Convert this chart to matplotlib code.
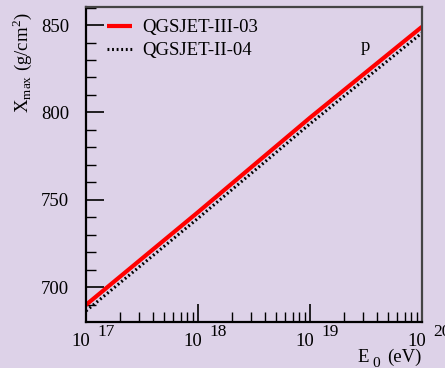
import numpy as np
import matplotlib
matplotlib.use("Agg")
import matplotlib.pyplot as plt
from matplotlib.ticker import LogLocator, NullFormatter, MultipleLocator
import matplotlib.transforms as mtransforms

log_energy = [17.0, 17.5, 18.0, 18.5, 19.0, 19.5, 20.0]
xmax_qgs3 = [690.0, 716.5, 743.0, 770.0, 797.0, 823.0, 849.0]
xmax_qgs2 = [686.5, 713.0, 739.5, 766.5, 793.5, 819.5, 845.5]
series_labels = ["QGSJET-III-03", "QGSJET-II-04"]
xtick_exps = ["17", "18", "19", "20"]

bg = "#ddd2e8"
FS = 13.5
plt.rcParams['font.family'] = ['Liberation Serif', 'DejaVu Serif']
plt.rcParams['mathtext.fontset'] = 'stix'

fig = plt.figure(figsize=(4.45, 3.68), dpi=100, facecolor=bg)
ax = fig.add_axes([86/445, 1-322/368, (422-86)/445, (322-7)/368], facecolor=bg)

E = 10 ** np.array(log_energy)
ax.plot(E, xmax_qgs3, color="#ff0000", lw=3.0, label=series_labels[0], solid_capstyle='butt')
ax.plot(E, xmax_qgs2, color="black", lw=2.2, linestyle=(0, (0.6, 0.9)), label=series_labels[1])

ax.set_xscale("log")
ax.set_xlim(1e17, 1e20)
ax.set_ylim(680.2, 860.3)

ax.xaxis.set_minor_locator(LogLocator(base=10, subs=np.arange(2, 10), numticks=20))
ax.xaxis.set_minor_formatter(NullFormatter())
ax.set_xticks([1e17, 1e18, 1e19, 1e20])
ax.set_xticklabels([])
ax.yaxis.set_major_locator(MultipleLocator(50))
ax.yaxis.set_minor_locator(MultipleLocator(10))

ax.tick_params(axis='both', which='major', direction='in', length=13, width=1.2, colors='black',
               labelsize=FS, top=False, right=False)
ax.tick_params(axis='both', which='minor', direction='in', length=7, width=1.0, top=False, right=False)
ax.tick_params(axis='y', which='major', pad=12)

for s in ax.spines.values():
    s.set_linewidth(1.6)
ax.spines['top'].set_color('#444444')
ax.spines['right'].set_color('#444444')
ax.spines['left'].set_color('black')
ax.spines['bottom'].set_color('black')

trans = mtransforms.blended_transform_factory(ax.transData, fig.transFigure)
for exp in xtick_exps:
    xv = 10 ** float(exp)
    t1 = mtransforms.offset_copy(trans, fig=fig, x=4, y=0, units='dots')
    ax.text(xv, 1-346/368, "10", transform=t1, ha='right', va='baseline', fontsize=FS,
            clip_on=False)
    t2 = mtransforms.offset_copy(trans, fig=fig, x=11, y=0, units='dots')
    ax.text(xv, 1-336/368, exp, transform=t2, ha='left', va='baseline', fontsize=FS - 1,
            clip_on=False)

fig.text(357/445, 1-362/368, "E", ha='left', va='baseline', fontsize=FS)
fig.text(372/445, 1-367/368, "0", ha='left', va='baseline', fontsize=FS - 2.5)
fig.text(422/445, 1-362/368, "(eV)", ha='right', va='baseline', fontsize=FS)

fig.text(22/445, 1-63/368, r"X$_{\mathregular{max}}$ (g/cm$^{\mathregular{2}}$)", rotation=90,
         ha='center', va='center', fontsize=FS)

ax.text(0.832, 0.875, "p", transform=ax.transAxes, ha='center', va='center', fontsize=FS)

leg = ax.legend(loc='upper left', bbox_to_anchor=(0.025, 1.0), frameon=False, fontsize=FS,
                handlelength=1.35, handletextpad=0.55, labelspacing=0.3, borderaxespad=0.25)

fig.savefig("out.png", dpi=100, facecolor=bg)
